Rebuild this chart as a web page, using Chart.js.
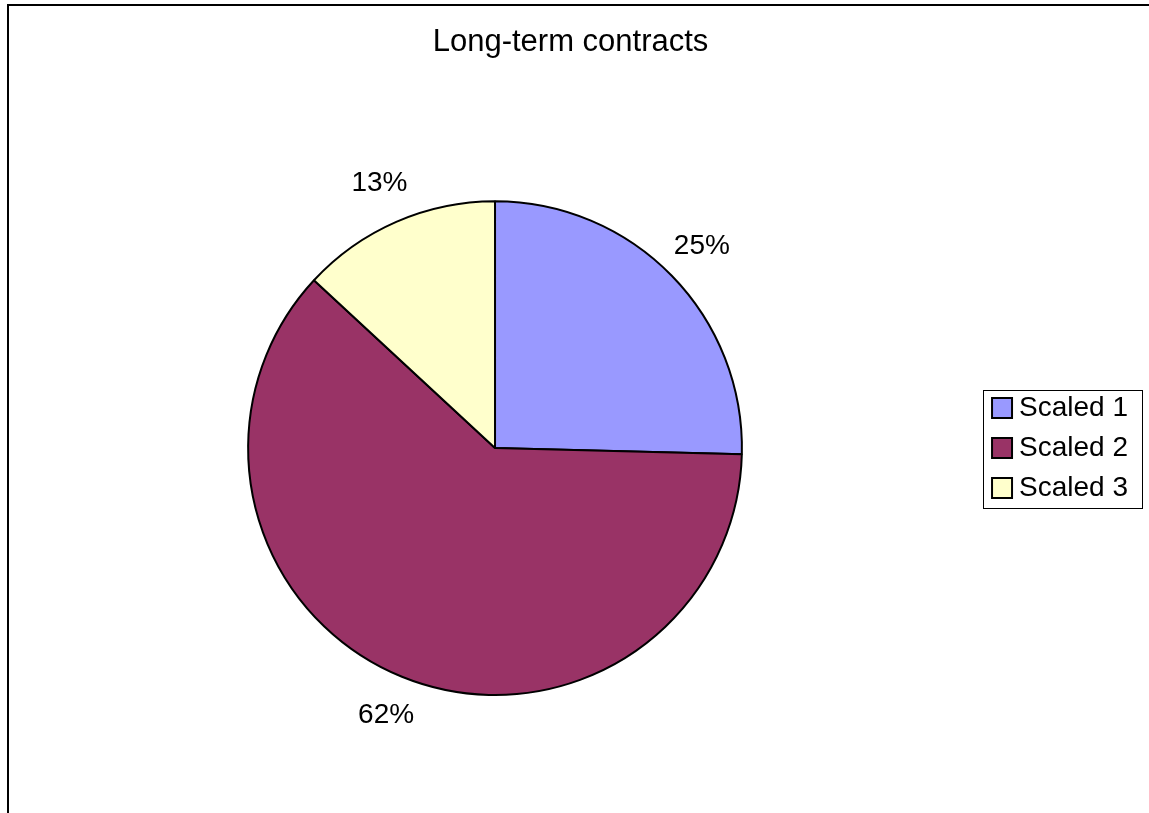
<!DOCTYPE html>
<html>
<head>
<meta charset="utf-8">
<script src="https://cdn.jsdelivr.net/npm/chart.js@4/dist/chart.umd.min.js"></script>
<style>
    html, body { margin: 0; padding: 0; background: #ffffff; }
    canvas { display: block; }
</style>
</head>
<body>
<canvas id="pie" width="1149" height="813"></canvas>
<script>
// Chart data
const chartTitle = 'Long-term contracts';
const categories = ['Scaled 1', 'Scaled 2', 'Scaled 3'];
const shares = [25.4, 61.5, 13.1];
const sliceColors = ['#9999FF', '#993366', '#FFFFCC'];

const FONT = '"Liberation Sans", Arial, sans-serif';

// Outer frame (only left and top edges are visible in the picture)
const framePlugin = {
    id: 'frame',
    beforeDraw(chart) {
        const ctx = chart.ctx;
        ctx.save();
        ctx.strokeStyle = '#000000';
        ctx.lineWidth = 2;
        ctx.beginPath();
        ctx.moveTo(8, chart.height + 2);
        ctx.lineTo(8, 5);
        ctx.lineTo(chart.width + 2, 5);
        ctx.stroke();
        ctx.restore();
    }
};

// Percent labels placed just outside each slice
const percentLabels = {
    id: 'percentLabels',
    afterDatasetsDraw(chart) {
        const ctx = chart.ctx;
        const meta = chart.getDatasetMeta(0);
        ctx.save();
        ctx.font = `28px ${FONT}`;
        ctx.fillStyle = '#000000';
        ctx.textAlign = 'center';
        ctx.textBaseline = 'middle';
        meta.data.forEach((arc, i) => {
            const { x, y, startAngle, endAngle, outerRadius } =
                arc.getProps(['x', 'y', 'startAngle', 'endAngle', 'outerRadius'], true);
            const mid = (startAngle + endAngle) / 2;
            const r = outerRadius + 42;
            ctx.fillText(`${Math.round(shares[i])}%`, x + Math.cos(mid) * r, y + Math.sin(mid) * r);
        });
        ctx.restore();
    }
};

// Thin box around the legend
const legendBox = {
    id: 'legendBox',
    afterDraw(chart) {
        const boxes = chart.legend && chart.legend.legendHitBoxes;
        if (!boxes || !boxes.length) return;
        const left = Math.min(...boxes.map(b => b.left)) - 16;
        const right = Math.max(...boxes.map(b => b.left + b.width)) + 14;
        const top = boxes[0].top - 4;
        const bottom = boxes[boxes.length - 1].top + boxes[boxes.length - 1].height + 6;
        const ctx = chart.ctx;
        ctx.save();
        ctx.strokeStyle = '#000000';
        ctx.lineWidth = 1;
        ctx.strokeRect(Math.round(left) + 0.5, Math.round(top) + 0.5,
            Math.round(right - left), Math.round(bottom - top));
        ctx.restore();
    }
};

const ctx = document.getElementById('pie').getContext('2d');

new Chart(ctx, {
    type: 'pie',
    data: {
        labels: categories,
        datasets: [{
            data: shares,
            backgroundColor: sliceColors,
            borderColor: '#000000',
            borderWidth: 2,
            hoverBorderWidth: 2,
            hoverOffset: 0
        }]
    },
    options: {
        responsive: false,
        animation: false,
        devicePixelRatio: 1,
        layout: {
            padding: { left: 3, right: 11, top: 0, bottom: 117 }
        },
        plugins: {
            title: {
                display: true,
                text: chartTitle,
                color: '#000000',
                font: { family: FONT, size: 31, weight: 'normal', lineHeight: 1.2 },
                padding: { top: 24, bottom: 139 }
            },
            legend: {
                position: 'right',
                fullSize: false,
                labels: {
                    color: '#000000',
                    font: { family: FONT, size: 28 },
                    usePointStyle: true,
                    pointStyle: 'rect',
                    boxWidth: 6,
                    boxHeight: 20,
                    padding: 12
                }
            },
            tooltip: { enabled: false }
        }
    },
    plugins: [framePlugin, percentLabels, legendBox]
});
</script>
</body>
</html>
